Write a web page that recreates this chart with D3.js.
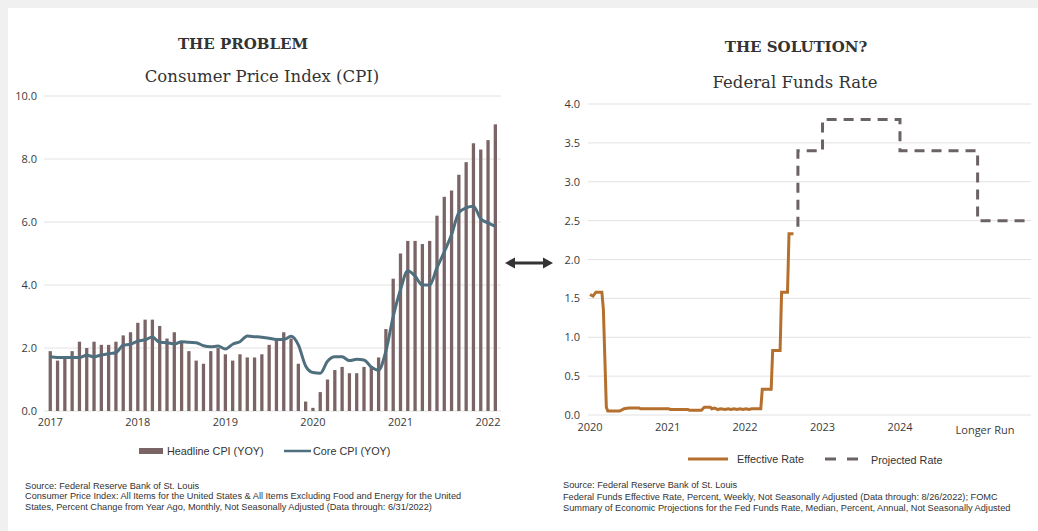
<!DOCTYPE html>
<html>
<head>
<meta charset="utf-8">
<script src="https://cdn.jsdelivr.net/npm/d3@7"></script>
<style>
  html, body { margin: 0; padding: 0; background: #f0f0f0; }
  #chart { width: 1038px; height: 531px; }
  .tick-label { font-family: "Open Sans", sans-serif; font-size: 11px; fill: #3a3a3a; }
  .legend-text { font-family: "Liberation Sans", Arial, sans-serif; font-size: 10.8px; fill: #333; }
  .note { font-family: "Liberation Sans", Arial, sans-serif; font-size: 9.2px; fill: #333; }
  .title { font-family: "DejaVu Serif", serif; font-weight: bold; font-size: 15px; fill: #333; }
  .subtitle { font-family: "DejaVu Serif", serif; font-size: 16.5px; fill: #333; }
</style>
</head>
<body>
<div id="chart"></div>
<script>
// ---- left: CPI, monthly May 2017 .. Jun 2022 ----
const cpiYears = ['2017', '2018', '2019', '2020', '2021', '2022'];
const headlineCpi = [
  1.9, 1.6, 1.7, 1.9, 2.2, 2.0, 2.2, 2.1,
  2.1, 2.2, 2.4, 2.5, 2.8, 2.9, 2.9, 2.7, 2.3, 2.5, 2.2, 1.9,
  1.6, 1.5, 1.9, 2.0, 1.8, 1.6, 1.8, 1.7, 1.7, 1.8, 2.1, 2.3,
  2.5, 2.3, 1.5, 0.3, 0.1, 0.6, 1.0, 1.3, 1.4, 1.2, 1.2, 1.4,
  1.4, 1.7, 2.6, 4.2, 5.0, 5.4, 5.4, 5.3, 5.4, 6.2, 6.8, 7.0,
  7.5, 7.9, 8.5, 8.3, 8.6, 9.1
];
const coreCpi = [
  1.72, 1.70, 1.70, 1.70, 1.70, 1.77, 1.72, 1.78,
  1.82, 1.85, 2.09, 2.12, 2.22, 2.26, 2.35, 2.18, 2.17, 2.13, 2.20, 2.18,
  2.17, 2.07, 2.04, 2.06, 1.97, 2.12, 2.20, 2.38, 2.36, 2.34, 2.31, 2.27,
  2.27, 2.37, 2.10, 1.43, 1.22, 1.20, 1.58, 1.72, 1.72, 1.60, 1.64, 1.62,
  1.40, 1.30, 1.90, 3.00, 3.85, 4.45, 4.28, 4.00, 4.00, 4.55, 5.05, 5.60,
  6.30, 6.45, 6.50, 6.10, 5.97, 5.86
];
const cpiTicks = [0, 2, 4, 6, 8, 10];

// ---- right: Fed funds ----
const effDates = [
  '2020-01-01', '2020-01-15', '2020-01-29', '2020-02-26', '2020-03-04', '2020-03-18', '2020-03-25',
  '2020-05-20', '2020-06-10', '2020-07-01', '2020-08-19', '2020-08-26', '2021-01-06', '2021-01-13',
  '2021-04-07', '2021-04-14', '2021-06-09', '2021-06-23', '2021-07-21', '2021-07-28', '2021-08-11',
  '2021-08-25', '2021-09-08', '2021-09-29', '2021-10-13', '2021-10-27', '2021-11-10', '2021-11-24',
  '2021-12-08', '2021-12-22', '2022-01-05', '2022-01-19', '2022-02-02', '2022-03-09', '2022-03-16',
  '2022-03-23', '2022-04-27', '2022-05-04', '2022-05-11', '2022-06-08', '2022-06-15', '2022-06-22',
  '2022-07-20', '2022-07-27', '2022-08-17'
];
const effValues = [
  1.55, 1.53, 1.58, 1.58, 1.36, 0.10, 0.05,
  0.05, 0.08, 0.09, 0.09, 0.08, 0.08, 0.07,
  0.07, 0.06, 0.06, 0.10, 0.10, 0.08, 0.09,
  0.07, 0.08, 0.07, 0.08, 0.07, 0.08, 0.07,
  0.08, 0.07, 0.08, 0.07, 0.08, 0.08, 0.08,
  0.33, 0.33, 0.33, 0.83, 0.83, 0.83, 1.58,
  1.58, 2.33, 2.33
];
const projDates = ['2022-09-07', '2022-09-07', '2023-01-01', '2024-01-01', '2025-01-01', '2025-09-01'];
const projValues = [2.42, 3.4, 3.8, 3.4, 2.5, 2.5];
const fedYears = ['2020', '2021', '2022', '2023', '2024'];
const fedTicks = [0, 0.5, 1, 1.5, 2, 2.5, 3, 3.5, 4];

const W = 1038, H = 531;
const svg = d3.select('#chart').append('svg')
  .attr('width', W).attr('height', H);

svg.append('rect').attr('x', 8).attr('y', 8).attr('width', W - 8).attr('height', H - 8).attr('fill', '#fff');

// ================= LEFT PANEL =================
const x = d3.scaleBand()
  .domain(d3.range(headlineCpi.length))
  .range([44.6, 501])
  .padding(0.55);
const y = d3.scaleLinear().domain([0, 10]).range([411, 96]);

svg.append('g').selectAll('line')
  .data(cpiTicks)
  .enter().append('line')
  .attr('x1', 44).attr('x2', 501)
  .attr('y1', d => y(d)).attr('y2', d => y(d))
  .attr('stroke', '#e2e2e2').attr('stroke-width', 1);

svg.append('g').selectAll('text')
  .data(cpiTicks)
  .enter().append('text')
  .attr('class', 'tick-label')
  .attr('text-anchor', 'end')
  .attr('x', 37)
  .attr('y', d => y(d) + 4)
  .text(d => d.toFixed(1));

svg.append('g').selectAll('text')
  .data(cpiYears)
  .enter().append('text')
  .attr('class', 'tick-label')
  .attr('text-anchor', 'middle')
  .attr('x', (d, i) => x(i * 12) + x.bandwidth() / 2)
  .attr('y', 426)
  .text(d => d);

svg.append('g').selectAll('.bar')
  .data(headlineCpi)
  .enter().append('rect')
  .attr('class', 'bar')
  .attr('x', (d, i) => x(i))
  .attr('y', d => y(d))
  .attr('width', x.bandwidth())
  .attr('height', d => y(0) - y(d))
  .attr('fill', '#7a6466');

const coreLine = d3.line()
  .x((d, i) => x(i) + x.bandwidth() / 2)
  .y(d => y(d))
  .curve(d3.curveMonotoneX);

svg.append('path')
  .datum(coreCpi)
  .attr('d', coreLine)
  .attr('fill', 'none')
  .attr('stroke', '#4f6f7e')
  .attr('stroke-width', 3)
  .attr('stroke-linejoin', 'round');

svg.append('text').attr('class', 'title').attr('text-anchor', 'middle')
  .attr('x', 243).attr('y', 49).text('THE PROBLEM');
svg.append('text').attr('class', 'subtitle').attr('text-anchor', 'middle')
  .attr('x', 262).attr('y', 82).text('Consumer Price Index (CPI)');

// legend
svg.append('rect').attr('x', 139).attr('y', 448).attr('width', 24).attr('height', 6).attr('fill', '#7a6466');
svg.append('text').attr('class', 'legend-text').attr('x', 167).attr('y', 455).text('Headline CPI (YOY)');
svg.append('line').attr('x1', 284).attr('x2', 311).attr('y1', 451).attr('y2', 451)
  .attr('stroke', '#4f6f7e').attr('stroke-width', 2.5);
svg.append('text').attr('class', 'legend-text').attr('x', 313).attr('y', 455).text('Core CPI (YOY)');

const leftNotes = [
  'Source: Federal Reserve Bank of St. Louis',
  'Consumer Price Index: All Items for the United States & All Items Excluding Food and Energy for the United',
  'States, Percent Change from Year Ago, Monthly, Not Seasonally Adjusted (Data through: 6/31/2022)'
];
svg.append('g').selectAll('text')
  .data(leftNotes)
  .enter().append('text')
  .attr('class', 'note')
  .attr('x', 25)
  .attr('y', (d, i) => 489 + i * 10.3)
  .text(d => d);

// ================= ARROW =================
const arrowY = 263;
svg.append('line').attr('x1', 512).attr('x2', 546).attr('y1', arrowY).attr('y2', arrowY)
  .attr('stroke', '#333').attr('stroke-width', 3);
svg.append('path').attr('d', `M505,${arrowY} L515,${arrowY - 5.5} L515,${arrowY + 5.5} Z`).attr('fill', '#333');
svg.append('path').attr('d', `M553,${arrowY} L543,${arrowY - 5.5} L543,${arrowY + 5.5} Z`).attr('fill', '#333');

// ================= RIGHT PANEL =================
const parse = d3.timeParse('%Y-%m-%d');
const fx = d3.scaleTime()
  .domain([parse('2020-01-01'), parse('2025-09-01')])
  .range([590, 590 + 77.5 * (5 + 8 / 12)]);
const fy = d3.scaleLinear().domain([0, 4]).range([415, 104]);

svg.append('g').selectAll('line')
  .data(fedTicks)
  .enter().append('line')
  .attr('x1', 588).attr('x2', 1031)
  .attr('y1', d => fy(d)).attr('y2', d => fy(d))
  .attr('stroke', '#e2e2e2').attr('stroke-width', 1);

svg.append('g').selectAll('text')
  .data(fedTicks)
  .enter().append('text')
  .attr('class', 'tick-label')
  .attr('text-anchor', 'end')
  .attr('x', 580)
  .attr('y', d => fy(d) + 4)
  .text(d => d.toFixed(1));

svg.append('g').selectAll('text')
  .data(fedYears)
  .enter().append('text')
  .attr('class', 'tick-label')
  .attr('text-anchor', 'middle')
  .attr('x', d => fx(parse(d + '-01-01')))
  .attr('y', 431)
  .text(d => d);
svg.append('text').attr('class', 'tick-label').attr('text-anchor', 'middle')
  .attr('x', 985).attr('y', 434).text('Longer Run');

const effData = effDates.map((d, i) => ({ date: parse(d), value: effValues[i] }));
const projData = projDates.map((d, i) => ({ date: parse(d), value: projValues[i] }));

svg.append('path')
  .datum(effData)
  .attr('d', d3.line().x(d => fx(d.date)).y(d => fy(d.value)))
  .attr('fill', 'none')
  .attr('stroke', '#b5702e')
  .attr('stroke-width', 3);

svg.append('path')
  .datum(projData)
  .attr('d', d3.line().x(d => fx(d.date)).y(d => fy(d.value)).curve(d3.curveStepAfter))
  .attr('fill', 'none')
  .attr('stroke', '#6b6265')
  .attr('stroke-width', 3)
  .attr('stroke-dasharray', '10,7');

svg.append('text').attr('class', 'title').attr('text-anchor', 'middle')
  .attr('x', 796).attr('y', 52).text('THE SOLUTION?');
svg.append('text').attr('class', 'subtitle').attr('text-anchor', 'middle')
  .attr('x', 795).attr('y', 88).text('Federal Funds Rate');

// legend
svg.append('line').attr('x1', 688).attr('x2', 728).attr('y1', 459).attr('y2', 459)
  .attr('stroke', '#b5702e').attr('stroke-width', 3);
svg.append('text').attr('class', 'legend-text').attr('x', 737).attr('y', 463).text('Effective Rate');
svg.append('line').attr('x1', 825).attr('x2', 858).attr('y1', 459).attr('y2', 459)
  .attr('stroke', '#6b6265').attr('stroke-width', 3).attr('stroke-dasharray', '11,11');
svg.append('text').attr('class', 'legend-text').attr('x', 871).attr('y', 464).text('Projected Rate');

const rightNotes = [
  'Source: Federal Reserve Bank of St. Louis',
  'Federal Funds Effective Rate, Percent, Weekly, Not Seasonally Adjusted (Data through: 8/26/2022); FOMC',
  'Summary of Economic Projections for the Fed Funds Rate, Median, Percent, Annual, Not Seasonally Adjusted'
];
svg.append('g').selectAll('text')
  .data(rightNotes)
  .enter().append('text')
  .attr('class', 'note')
  .attr('x', 563)
  .attr('y', (d, i) => 488 + i * 11.5)
  .text(d => d);
</script>
</body>
</html>
